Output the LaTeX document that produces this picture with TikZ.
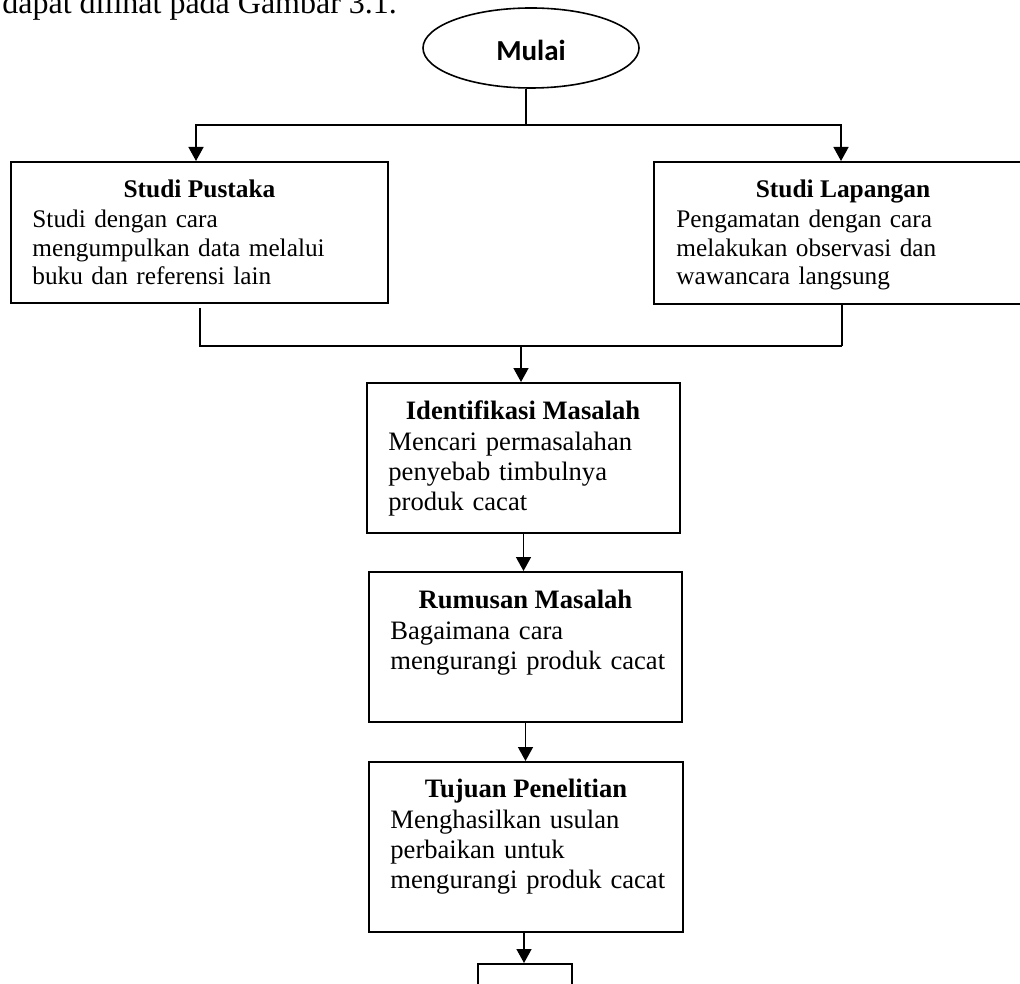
\documentclass[tikz,border=0pt]{standalone}
\usepackage{fontspec}
\setmainfont{Liberation Serif}
\newfontfamily\calibrifont{Carlito}
\usetikzlibrary{arrows.meta,shapes.geometric}
\begin{document}
\begin{tikzpicture}[x=0.5pt,y=-0.5pt,
  box/.style={draw,line width=1pt,rectangle,inner sep=0pt},
  conn/.style={line width=0.75pt},
  arr/.style={conn,-{Triangle[length=7pt,width=7.5pt]}},
  sidetitle/.style={inner sep=0pt,anchor=base,font=\fontsize{12.7}{14.25}\selectfont\bfseries},
  sidebody/.style={inner sep=0pt,anchor=base west,align=left,text width=180pt,font=\fontsize{12.65}{14.25}\selectfont},
  midtitle/.style={inner sep=0pt,anchor=base,font=\fontsize{13.3}{15}\selectfont\bfseries},
  midbody/.style={inner sep=0pt,anchor=base west,align=left,text width=150pt,font=\fontsize{13.3}{15}\selectfont},
]
\useasboundingbox (0,0) rectangle (1020,983);
\clip (0,0) rectangle (1020,983);

% intro text (cut at the top)
\node[anchor=base west,inner sep=0pt,font=\fontsize{16}{19}\selectfont] (intro) at (2,13.5) {dapat dilihat pada Gambar 3.1.};

% start
\node[ellipse,draw,line width=0.8pt,minimum width=108pt,minimum height=40pt,inner sep=0pt] (mulai) at (531,48) {};
\node[anchor=base,inner sep=0pt,font=\fontsize{14.5}{17}\selectfont\calibrifont\bfseries] (mulaiT) at (531,61) {Mulai};

% boxes
\node[box,minimum width=188.5pt,minimum height=70.5pt] (pustaka) at (199.5,232.5) {};
\node[box,minimum width=188pt,minimum height=71pt] (lapangan) at (842,233) {};
\node[box,minimum width=156.5pt,minimum height=75pt] (ident) at (523.5,458) {};
\node[box,minimum width=156.5pt,minimum height=75pt] (rumusan) at (525.5,647) {};
\node[box,minimum width=157pt,minimum height=85pt] (tujuan) at (526,847) {};
\node[box,minimum width=47pt,minimum height=26pt] (next) at (525,990) {};

% texts
\node[sidetitle] (pustakaT) at (199.5,198) {Studi Pustaka};
\node[sidebody] (pustakaB) at (32,228) {Studi dengan cara\\mengumpulkan data melalui\\buku dan referensi lain};
\node[sidetitle] (lapanganT) at (843,198) {Studi Lapangan};
\node[sidebody] (lapanganB) at (676,228) {Pengamatan dengan cara\\melakukan observasi dan\\wawancara langsung};
\node[midtitle] (identT) at (523,419) {Identifikasi Masalah};
\node[midbody] (identB) at (388,450) {Mencari permasalahan\\penyebab timbulnya\\produk cacat};
\node[midtitle] (rumusanT) at (525.5,608) {Rumusan Masalah};
\node[midbody] (rumusanB) at (390,639) {Bagaimana cara\\mengurangi produk cacat};
\node[midtitle] (tujuanT) at (526,797) {Tujuan Penelitian};
\node[midbody] (tujuanB) at (390,828) {Menghasilkan usulan\\perbaikan untuk\\mengurangi produk cacat};

% split from start
\coordinate (split) at (526,125);
\coordinate (splitL) at (196,125);
\coordinate (splitR) at (841,125);
\draw[conn,line width=0.6pt] (mulai.south -| split) -- (split);
\draw[arr] (split) -- (splitL) -- (splitL |- pustaka.north);
\draw[arr] (split) -- (splitR) -- (splitR |- lapangan.north);

% merge
\coordinate (pdrop) at (200,308);
\coordinate (mergeL) at (200,346);
\coordinate (mergeR) at (842,346);
\coordinate (merge) at (521,346);
\draw[conn] (pdrop) -- (mergeL) -- (mergeR);
\draw[conn] (lapangan.south -| mergeR) -- (mergeR);
\draw[arr] (merge) -- (merge |- ident.north);

% chain
\draw[arr] (ident.south) -- (ident.south |- rumusan.north);
\draw[arr] (rumusan.south) -- (rumusan.south |- tujuan.north);
\draw[arr] ([xshift=-1pt]tujuan.south) -- ([xshift=-1pt]tujuan.south |- next.north);
\end{tikzpicture}
\end{document}
